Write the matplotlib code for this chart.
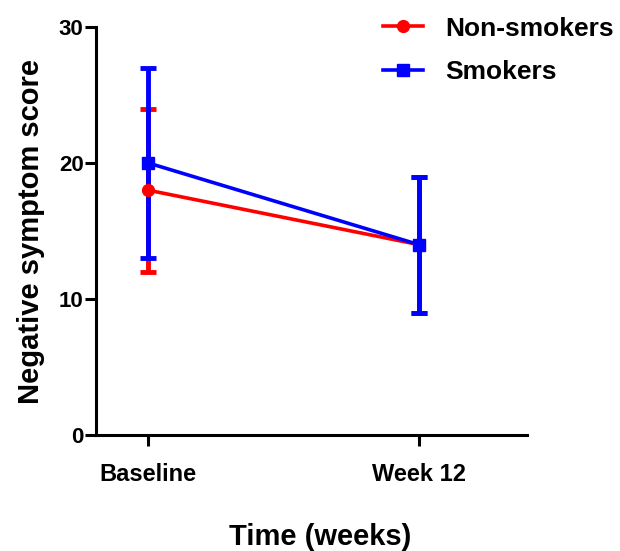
import matplotlib
matplotlib.use("Agg")
import matplotlib.pyplot as plt

# data
time_points = ["Baseline", "Week 12"]
non_smokers_mean = [18, 14]
non_smokers_sd = [6, 5]
smokers_mean = [20, 14]
smokers_sd = [7, 5]
y_ticks = [0, 10, 20, 30]

plt.rcParams["font.family"] = ["Liberation Sans", "DejaVu Sans"]
plt.rcParams["font.weight"] = "bold"

fig = plt.figure(figsize=(6.2, 5.51), dpi=100)
ax = fig.add_axes([0.155, 0.2105, 0.695, 0.7405])

x = list(range(len(time_points)))

# red first, blue on top
ax.errorbar(x, non_smokers_mean, yerr=non_smokers_sd, color="#ff0000",
            marker="o", markersize=8.5, linewidth=2.6, elinewidth=3.5,
            capsize=6, capthick=3.5, label="Non-smokers", clip_on=False)
ax.errorbar(x, smokers_mean, yerr=smokers_sd, color="#0000ff",
            marker="s", markersize=8.5, linewidth=2.6, elinewidth=3.5,
            capsize=6, capthick=3.5, label="Smokers", clip_on=False)

ax.set_xlim(-0.193, 1.4)
ax.set_ylim(0, 30)
ax.set_xticks(x)
ax.set_xticklabels(time_points)
ax.set_yticks(y_ticks)

for side in ["top", "right"]:
    ax.spines[side].set_visible(False)
for side in ["left", "bottom"]:
    ax.spines[side].set_linewidth(2.2)

ax.tick_params(axis="both", direction="out", length=8, width=2.2)
ax.tick_params(axis="y", labelsize=16, pad=1)
ax.tick_params(axis="x", labelsize=17, pad=12)

ax.set_xlabel("Time (weeks)", fontsize=21, fontweight="bold")
ax.set_ylabel("Negative symptom score", fontsize=21, fontweight="bold",
              labelpad=10)
ax.xaxis.set_label_coords(0.52, -0.215)

handles, labels = ax.get_legend_handles_labels()
handles = [h[0] for h in handles]
fig.legend(handles, labels, loc="upper left", bbox_to_anchor=(0.618, 0.970),
           frameon=False, handlelength=1.5, handletextpad=0.85,
           labelspacing=0.74, borderpad=0, borderaxespad=0,
           prop={"size": 19, "weight": "bold"})

fig.savefig("out.png", dpi=100)
plt.close(fig)
